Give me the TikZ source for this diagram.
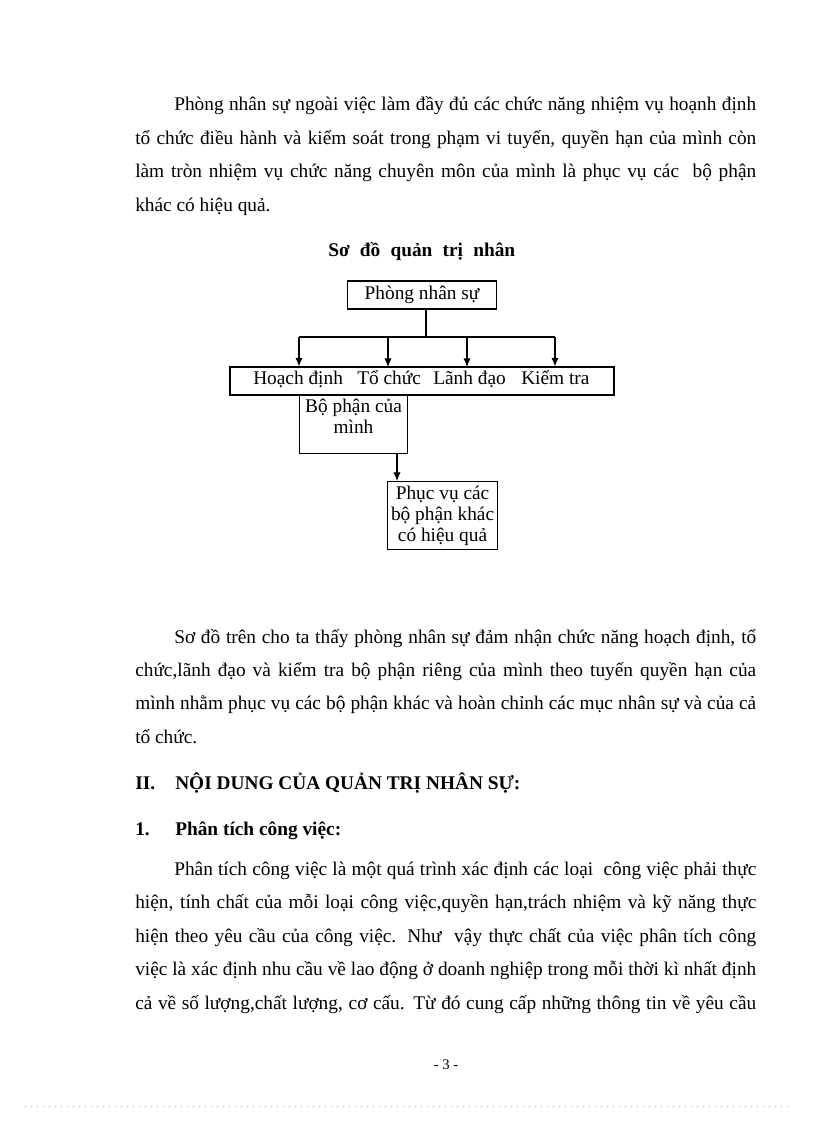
\documentclass[tikz,border=0pt]{standalone}
\usepackage{fontspec}
\setmainfont{Liberation Serif}
\usetikzlibrary{arrows.meta}
\tikzset{
  txt/.style={inner sep=0pt, anchor=base west, font=\fontsize{14.5pt}{17pt}\selectfont},
  box/.style={draw, line width=0.8pt, inner sep=0pt, font=\fontsize{14.5pt}{15.75pt}\selectfont, align=center},
  lbl/.style={inner sep=0pt, font=\fontsize{14.5pt}{15.75pt}\selectfont, align=center},
  conn/.style={line width=0.8pt},
  arr/.style={line width=0.8pt, -{Latex[length=6.5pt,width=5.5pt]}}
}
\newcommand{\jl}[1]{\makebox[465.75pt][s]{#1}}
\newcommand{\jf}[1]{\makebox[436.5pt][s]{#1}}
\begin{document}
\begin{tikzpicture}[x=0.75pt,y=-0.75pt]
\useasboundingbox (0,0) rectangle (816,1123);
\fill[white] (0,0) rectangle (816,1123);

% paragraph 1
\node[txt] (p1a) at (174,111) {\jf{Phòng nhân sự ngoài việc làm đầy đủ các chức năng nhiệm vụ hoạnh định}};
\node[txt] (p1b) at (135,145) {\jl{tổ chức điều hành và kiểm soát trong phạm vi tuyến, quyền hạn của mình còn}};
\node[txt] (p1c) at (135,178) {\jl{làm tròn nhiệm vụ chức năng chuyên môn của mình là phục vụ các \ bộ phận}};
\node[txt] (p1d) at (135,212) {khác có hiệu quả.};

% title
\node[txt] (title) at (328,256) {\makebox[140.25pt][s]{\bfseries Sơ đồ quản trị nhân}};

% diagram
\node[box, minimum width=111.75pt, minimum height=21pt] (phong) at (422,295) {Phòng nhân sự};
\node[box, minimum width=288pt, minimum height=21pt] (wide) at (422,381) {};
\node[txt] (hd) at (253,384) {Hoạch định};
\node[txt] (tc) at (357,384) {Tổ chức};
\node[txt] (ld) at (433,384) {Lãnh đạo};
\node[txt] (kt) at (521,384) {Kiểm tra};
\node[box, minimum width=81pt, minimum height=43.5pt, anchor=north west] (bp) at (299,395) {};
\node[lbl, anchor=north] (bpt) at ([yshift=-1pt]bp.north) {\rule{0pt}{12pt}Bộ phận của\\mình};
\node[box, minimum width=82.5pt, minimum height=51pt, anchor=north west] (pv) at (387,481) {};
\node[lbl, anchor=north] (pvt) at ([yshift=-1.5pt]pv.north) {\rule{0pt}{12pt}Phục vụ các\\bộ phận khác\\có hiệu quả};

\coordinate (j) at (426,337);
\coordinate (jl) at (299,337);
\coordinate (jr) at (555,337);
\draw[conn] (j |- phong.south) -- (j);
\draw[conn] (jl) -- (jr);
\draw[arr] (jl) -- (jl |- wide.north);
\draw[arr] (388,337) -- (388,367);
\draw[arr] (467,337) -- (467,367);
\draw[arr] (jr) -- (jr |- wide.north);
\draw[arr] (397,0 |- bp.south) -- (397,0 |- pv.north);

% paragraph 2
\node[txt] (p2a) at (174,643) {\jf{Sơ đồ trên cho ta thấy phòng nhân sự đảm nhận chức năng hoạch định, tổ}};
\node[txt] (p2b) at (135,676) {\jl{chức,lãnh đạo và kiểm tra bộ phận riêng của mình theo tuyến quyền hạn của}};
\node[txt] (p2c) at (135,709) {\jl{mình nhằm phục vụ các bộ phận khác và hoàn chỉnh các mục nhân sự và của cả}};
\node[txt] (p2d) at (135,743) {tổ chức.};

% headings
\node[txt, font=\fontsize{14.5pt}{17pt}\selectfont\bfseries] (h2n) at (135,789) {II.};
\node[txt, font=\fontsize{14.5pt}{17pt}\selectfont\bfseries] (h2) at (175,789) {NỘI DUNG CỦA QUẢN TRỊ NHÂN SỰ:};
\node[txt, font=\fontsize{14.5pt}{17pt}\selectfont\bfseries] (h1n) at (135,835) {1.};
\node[txt, font=\fontsize{14.5pt}{17pt}\selectfont\bfseries] (h1) at (175,835) {Phân tích công việc:};

% paragraph 3
\node[txt] (p3a) at (174,875) {\jf{Phân tích công việc là một quá trình xác định các loại \ công việc phải thực}};
\node[txt] (p3b) at (135,908) {\jl{hiện, tính chất của mỗi loại công việc,quyền hạn,trách nhiệm và kỹ năng thực}};
\node[txt] (p3c) at (135,942) {\jl{hiện theo yêu cầu của công việc. Như \ vậy thực chất của việc phân tích công}};
\node[txt] (p3d) at (135,975) {\jl{việc là xác định nhu cầu về lao động ở doanh nghiệp trong mỗi thời kì nhất định}};
\node[txt] (p3e) at (135,1009) {\jl{cả về số lượng,chất lượng, cơ cấu. Từ đó cung cấp những thông tin về yêu cầu}};

% page number
\node[inner sep=0pt, anchor=base, font=\fontsize{11pt}{13pt}\selectfont] (pg) at (446,1069) {- 3 -};

% bottom dotted line
\coordinate (dl) at (25,1106);
\coordinate (dr) at (792,1106);
\draw[gray!60, line width=0.75pt, dash pattern=on 0.75pt off 3.75pt] (dl) -- (dr);
\end{tikzpicture}
\end{document}
